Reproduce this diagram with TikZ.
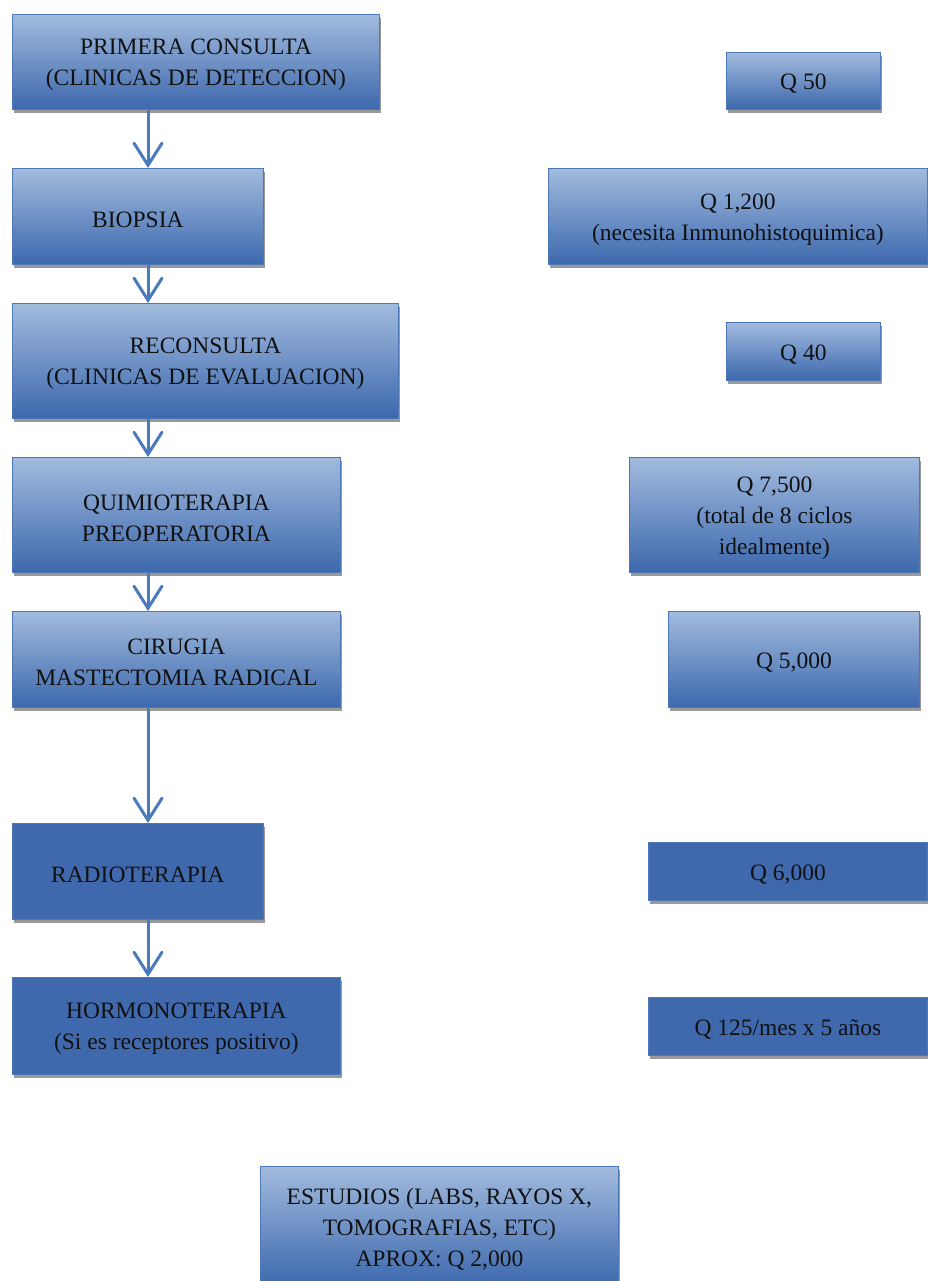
\documentclass[tikz,border=0pt]{standalone}
\usepackage{fontspec}
\setmainfont{Liberation Serif}
\usetikzlibrary{arrows.meta,shadows}
\definecolor{boxtop}{HTML}{A2BBDE}
\definecolor{boxbot}{HTML}{3C68AD}
\definecolor{boxsolid}{HTML}{4068AD}
\definecolor{boxline}{HTML}{4C78B8}
\definecolor{flowline}{HTML}{4A79BE}
\definecolor{ink}{HTML}{111111}
% #1 name, #2 x, #3 y (top left), #4 width, #5 height, #6 style, #7 text
\newcommand\flowbox[7]{%
  \node[#6, minimum width=#4pt, minimum height=#5pt] (#1) at (#2,#3) {};
  \node[boxtext] (#1-t) at ([yshift=-3pt]#1.center) {#7};}
\begin{document}
\begin{tikzpicture}[x=1pt,y=-1pt,
  basebox/.style={draw=boxline, line width=0.8pt, anchor=north west, inner sep=0pt,
    drop shadow={shadow xshift=2pt, shadow yshift=-3.5pt, opacity=0.4, fill=black}},
  gbox/.style={basebox, top color=boxtop, bottom color=boxbot},
  sbox/.style={basebox, fill=boxsolid},
  boxtext/.style={align=center, text=ink, inner sep=0pt, font=\fontsize{23.5}{31}\selectfont},
  flow/.style={draw=flowline, line width=3pt,
    -{Straight Barb[length=22pt, width=28pt, line width=3pt, line cap=round]}}]
\useasboundingbox (0,0) rectangle (927,1281);

% treatment steps
\flowbox{s1}{12}{14}{367}{95}{gbox}{PRIMERA CONSULTA\\(CLINICAS DE DETECCION)}
\flowbox{s2}{12}{168}{251}{96}{gbox}{BIOPSIA}
\flowbox{s3}{12}{303}{386}{115}{gbox}{RECONSULTA\\(CLINICAS DE EVALUACION)}
\flowbox{s4}{12}{457}{328}{115}{gbox}{QUIMIOTERAPIA\\PREOPERATORIA}
\flowbox{s5}{12}{611}{328}{96}{gbox}{CIRUGIA\\MASTECTOMIA RADICAL}
\flowbox{s6}{12}{823}{251}{96}{sbox}{RADIOTERAPIA}
\flowbox{s7}{12}{977}{328}{97}{sbox}{HORMONOTERAPIA\\(Si es receptores positivo)}

% costs
\flowbox{c1}{726}{52}{154}{57}{gbox}{Q 50}
\flowbox{c2}{548}{168}{379}{96}{gbox}{Q 1,200\\(necesita Inmunohistoquimica)}
\flowbox{c3}{726}{322}{154}{58}{gbox}{Q 40}
\flowbox{c4}{629}{457}{290}{115}{gbox}{Q 7,500\\(total de 8 ciclos\\idealmente)}
\flowbox{c5}{668}{611}{251}{96}{gbox}{Q 5,000}
\flowbox{c6}{648}{842}{279}{58}{sbox}{Q 6,000}
\flowbox{c7}{648}{997}{279}{58}{sbox}{Q 125/mes x 5 años}

% additional studies
\flowbox{e1}{260}{1166}{358}{120}{gbox}{ESTUDIOS (LABS, RAYOS X,\\TOMOGRAFIAS, ETC)\\APROX: Q 2,000}

% connectors along the left column
\coordinate (ax) at (148,0);
\foreach \a/\b in {s1/s2,s2/s3,s3/s4,s4/s5,s5/s6,s6/s7}{
  \draw[flow] (\a.south -| ax) -- (\b.north -| ax);
}
\end{tikzpicture}
\end{document}
